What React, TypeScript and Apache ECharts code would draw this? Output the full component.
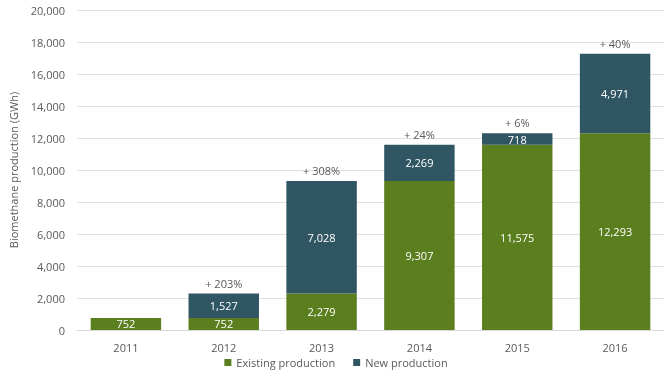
import React, { useEffect, useRef } from "react";
import * as echarts from "echarts";

const categories = ["2011", "2012", "2013", "2014", "2015", "2016"];
const existing = [752, 752, 2279, 9307, 11575, 12293];
const newProd = [0, 1527, 7028, 2269, 718, 4971];
const growth = ["", "+ 203%", "+ 308%", "+ 24%", "+ 6%", "+ 40%"];

const FONT = "'Open Sans', 'Liberation Sans', sans-serif";
const fmt = (v: number) => Number(v).toLocaleString("en-US");

export default function App() {
  const ref = useRef<HTMLDivElement>(null);
  useEffect(() => {
    if (!ref.current) return;
    const chart = echarts.init(ref.current, null, { renderer: "svg" });
    chart.setOption({
      animation: false,
      textStyle: { fontFamily: FONT },
      grid: { left: 73, right: 8, top: 10, bottom: 48 },
      legend: {
        bottom: 5,
        left: "center",
        itemWidth: 7,
        itemHeight: 7,
        itemGap: 18,
        icon: "rect",
        textStyle: { color: "#595959", fontSize: 11, fontFamily: FONT },
        data: ["Existing production", "New production"],
      },
      xAxis: {
        type: "category",
        data: categories,
        axisLine: { lineStyle: { color: "#d9d9d9" } },
        axisTick: { show: false },
        axisLabel: { color: "#595959", fontSize: 11, margin: 12, fontFamily: FONT },
      },
      yAxis: {
        type: "value",
        min: 0,
        max: 20000,
        interval: 2000,
        name: "Biomethane production (GWh)",
        nameLocation: "middle",
        nameGap: 58,
        nameTextStyle: { color: "#595959", fontSize: 11, fontFamily: FONT },
        axisLine: { show: false },
        axisTick: { show: false },
        splitLine: { lineStyle: { color: "#e0e0e0" } },
        axisLabel: {
          color: "#595959",
          fontSize: 11,
          margin: 12,
          fontFamily: FONT,
          formatter: (v: number) => fmt(v),
        },
      },
      series: [
        {
          name: "Existing production",
          type: "bar",
          stack: "total",
          barCategoryGap: "28%",
          data: existing,
          itemStyle: { color: "#5b7f1f" },
          label: {
            show: true,
            position: "inside",
            color: "#ffffff",
            fontSize: 11,
            fontFamily: FONT,
            formatter: (p: any) => fmt(p.value),
          },
        },
        {
          name: "New production",
          type: "bar",
          stack: "total",
          data: newProd.map((v, i) => ({
            value: v,
            label: {
              show: i > 0,
              position: "top",
              distance: 5,
              color: "#595959",
              fontSize: 11,
              fontFamily: FONT,
              formatter: growth[i],
            },
          })),
          itemStyle: { color: "#315663" },
        },
        {
          type: "custom",
          name: "newLabels",
          coordinateSystem: "cartesian2d",
          silent: true,
          data: newProd.map((v, i) => [i, existing[i] + v / 2, v]),
          renderItem: (params: any, api: any) => {
            const v = api.value(2);
            if (!v) return null;
            const pt = api.coord([api.value(0), api.value(1)]);
            return {
              type: "text",
              x: pt[0],
              y: pt[1],
              style: {
                text: fmt(v),
                fill: "#ffffff",
                fontSize: 11,
                fontFamily: FONT,
                align: "center",
                verticalAlign: "middle",
              },
            };
          },
          z: 20,
        },
      ],
    });
    return () => chart.dispose();
  }, []);
  return (
    <div
      ref={ref}
      style={{ position: "fixed", left: 0, top: 0, width: 672, height: 378 }}
    />
  );
}
